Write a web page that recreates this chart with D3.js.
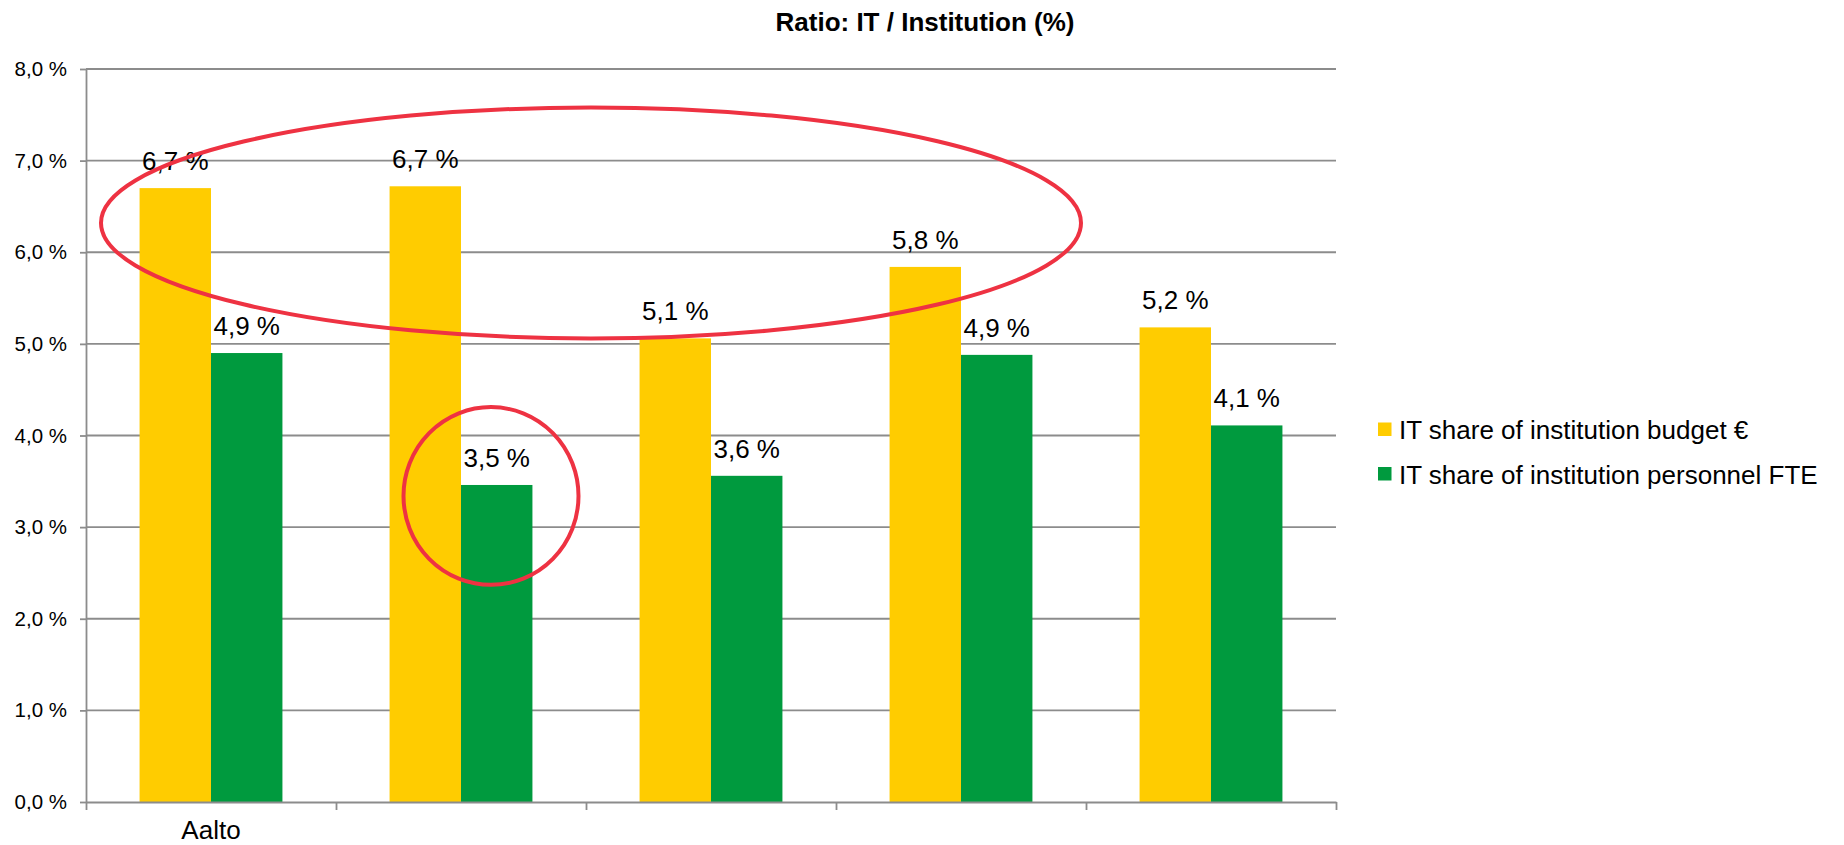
<!DOCTYPE html>
<html lang="en">
<head>
	<meta charset="utf-8">
	<title>Ratio: IT / Institution</title>
	<script src="https://d3js.org/d3.v7.min.js"></script>
	<style type="text/css">
		body { margin: 0; background: #fff; }
		svg { display: block; font-family: "Liberation Sans", Arial, sans-serif; }
	</style>
</head>
<body>
	<svg id="chart" width="1844" height="845"></svg>

	<script type="text/javascript">

	// data
	var categories = ["Aalto", "", "", "", ""]
	var seriesNames = ["IT share of institution budget \u20ac", "IT share of institution personnel FTE"]
	var budgetShare = [6.70, 6.72, 5.06, 5.84, 5.18]
	var personnelShare = [4.90, 3.46, 3.56, 4.88, 4.11]
	var yTicks = [0, 1, 2, 3, 4, 5, 6, 7, 8]

	// red highlight marks, in data units (category index / percent)
	var highlights = [
		{cx: 2.02, rx: 1.96, cy: 6.32, ry: 1.26},
		{cx: 1.62, rx: 0.35, cy: 3.34, ry: 0.97}
	]

	var colors = ["#ffcc00", "#009a3e"]
	var gridColor = "#8c8c8c"

	// layout
	var plot = {left: 86, right: 1336, top: 69, bottom: 802}

	var svg = d3.select("#chart")

	var x = d3.scaleBand()
		.domain(d3.range(categories.length))
		.range([plot.left, plot.right])
		.paddingInner(1.5 / 3.5)
		.paddingOuter(0.75 / 3.5)

	var xSub = d3.scaleBand()
		.domain(d3.range(seriesNames.length))
		.range([0, x.bandwidth()])

	// continuous version of the category axis, used for boundary ticks and highlights
	var xc = d3.scaleLinear()
		.domain([0, categories.length])
		.range([plot.left, plot.right])

	var y = d3.scaleLinear()
		.domain([0, 8])
		.range([plot.bottom, plot.top])

	var fmt = d => d.toFixed(1).replace(".", ",") + " %"

	// gridlines
	svg.append("g")
		.selectAll("line")
		.data(yTicks.filter(d => d > 0))
		.join("line")
		.attr("x1", plot.left)
		.attr("x2", plot.right)
		.attr("y1", d => y(d))
		.attr("y2", d => y(d))
		.attr("stroke", gridColor)
		.attr("stroke-width", 1.8)

	// bars
	var rows = categories.map((c, i) => ({i: i, values: [budgetShare[i], personnelShare[i]]}))

	var groups = svg.append("g")
		.selectAll("g")
		.data(rows)
		.join("g")
		.attr("transform", d => "translate(" + x(d.i) + ",0)")

	groups.selectAll("rect")
		.data(d => d.values.map((v, s) => ({v: v, s: s})))
		.join("rect")
		.attr("x", d => xSub(d.s))
		.attr("width", xSub.bandwidth())
		.attr("y", d => y(d.v))
		.attr("height", d => y(0) - y(d.v))
		.attr("fill", d => colors[d.s])

	groups.selectAll("text")
		.data(d => d.values.map((v, s) => ({v: v, s: s})))
		.join("text")
		.attr("x", d => xSub(d.s) + xSub.bandwidth() / 2)
		.attr("y", d => y(d.v) - 18)
		.attr("text-anchor", "middle")
		.attr("font-size", 26)
		.attr("fill", "#000")
		.text(d => fmt(d.v))

	// y axis
	var yAxis = svg.append("g")
		.attr("transform", "translate(" + plot.left + ",0)")
		.call(d3.axisLeft(y).tickValues(yTicks).tickSize(6).tickSizeOuter(0).tickPadding(13).tickFormat(fmt))
	yAxis.selectAll("line, path").attr("stroke", gridColor).attr("stroke-width", 1.8)
	yAxis.selectAll("text").attr("font-size", 20.5).attr("fill", "#000").attr("font-family", null)

	// x axis: ticks at category boundaries
	var xAxis = svg.append("g")
		.attr("transform", "translate(0," + plot.bottom + ")")
		.call(d3.axisBottom(xc).ticks(categories.length).tickSize(8).tickSizeOuter(0).tickFormat(""))
	xAxis.selectAll("line, path").attr("stroke", gridColor).attr("stroke-width", 1.8)

	svg.append("g")
		.selectAll("text")
		.data(categories)
		.join("text")
		.attr("x", (d, i) => x(i) + x.bandwidth() / 2)
		.attr("y", plot.bottom + 37)
		.attr("text-anchor", "middle")
		.attr("font-size", 26)
		.text(d => d)

	// title
	svg.append("text")
		.attr("x", 925)
		.attr("y", 31)
		.attr("text-anchor", "middle")
		.attr("font-size", 26)
		.attr("font-weight", "bold")
		.text("Ratio: IT / Institution (%)")

	// legend
	var legend = svg.append("g")
		.attr("transform", "translate(1378,0)")
		.selectAll("g")
		.data(seriesNames)
		.join("g")
		.attr("transform", (d, i) => "translate(0," + (439 + i * 44.5) + ")")
	legend.append("rect")
		.attr("x", 0)
		.attr("y", -16.5)
		.attr("width", 13.5)
		.attr("height", 13.5)
		.attr("fill", (d, i) => colors[i])
	legend.append("text")
		.attr("x", 21)
		.attr("y", 0)
		.attr("font-size", 26)
		.text(d => d)

	// highlights
	svg.append("g")
		.selectAll("ellipse")
		.data(highlights)
		.join("ellipse")
		.attr("cx", d => xc(d.cx))
		.attr("cy", d => y(d.cy))
		.attr("rx", d => xc(d.rx) - xc(0))
		.attr("ry", d => y(0) - y(d.ry))
		.attr("fill", "none")
		.attr("stroke", "#ee3242")
		.attr("stroke-width", 4)

	</script>
</body>
</html>
